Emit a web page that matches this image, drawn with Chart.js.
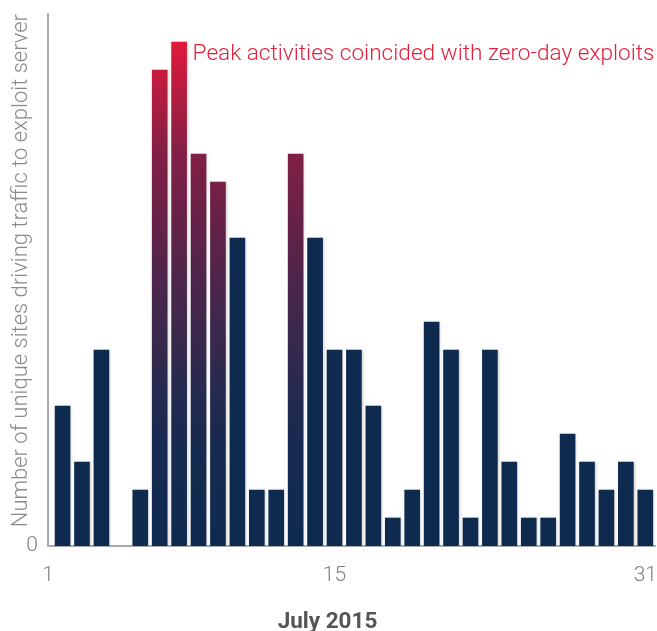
<!DOCTYPE html>
<html>
<head>
<meta charset="utf-8">
<script src="https://cdn.jsdelivr.net/npm/chart.js@4.4.1/dist/chart.umd.min.js"></script>
<style>
  html, body { margin: 0; padding: 0; background: #ffffff; }
  canvas { display: block; }
</style>
</head>
<body>
<canvas id="chart" width="657" height="631"></canvas>
<script>
// ---- data ----
const days = [1,2,3,4,5,6,7,8,9,10,11,12,13,14,15,16,17,18,19,20,21,22,23,24,25,26,27,28,29,30,31];
const siteCounts = [5,3,7,0,2,17,18,14,13,11,2,2,14,11,7,7,5,1,2,8,7,1,7,3,1,1,4,3,2,3,2];
const zeroDayDays = [6,7,8,9,13];
const xTickDays = [1,15,31];
const xTickLabels = ['1','15','31'];
const yTickValues = [0];
const yTickLabels = ['0'];
const annotationText = 'Peak activities coincided with zero-day exploits';
const yAxisTitle = 'Number of unique sites driving traffic to exploit server';
const xAxisTitle = 'July 2015';

// ---- styles ----
const NAVY = '#0f2a4f';
const AXIS_GREY = '#a8a9ad';
const TEXT_GREY = '#808080';
const RED = '#e2203d';
const gradientStops = [
  [0.00, '#e8183a'],
  [0.05, '#e11a3a'],
  [0.105, '#c81b3d'],
  [0.26, '#821f45'],
  [0.38, '#682147'],
  [0.54, '#45274b'],
  [0.63, '#35294d'],
  [0.71, '#25294f'],
  [0.82, '#162a50'],
  [1.00, NAVY]
];

let gradCache = null, gradKey = '';
function peakGradient(chart) {
  const a = chart.chartArea;
  const key = a.top + ':' + a.bottom;
  if (!gradCache || gradKey !== key) {
    const g = chart.ctx.createLinearGradient(0, a.top, 0, a.bottom);
    gradientStops.forEach(([p, c]) => g.addColorStop(p, c));
    gradCache = g; gradKey = key;
  }
  return gradCache;
}

const barShadow = {
  id: 'barShadow',
  beforeDatasetsDraw(chart) {
    const c = chart.ctx;
    c.save();
    c.shadowColor = 'rgba(0,0,0,0.22)';
    c.shadowBlur = 3;
    c.shadowOffsetX = 1;
    c.shadowOffsetY = 0;
  },
  afterDatasetsDraw(chart) {
    chart.ctx.restore();
  }
};

const peakNote = {
  id: 'peakNote',
  afterDatasetsDraw(chart) {
    const meta = chart.getDatasetMeta(0);
    const i = siteCounts.indexOf(Math.max(...siteCounts));
    const bar = meta.data[i];
    const c = chart.ctx;
    c.save();
    c.font = '300 22.6px Roboto';
    c.fillStyle = RED;
    c.textAlign = 'left';
    c.textBaseline = 'alphabetic';
    c.fillText(annotationText, bar.x + bar.width / 2 + 6, bar.y + 17.5);
    c.restore();
  }
};

new Chart(document.getElementById('chart'), {
  type: 'bar',
  data: {
    labels: days,
    datasets: [{
      data: siteCounts,
      backgroundColor: (ctx) => {
        const chart = ctx.chart;
        const v = siteCounts[ctx.dataIndex];
        if (!v) return 'rgba(0,0,0,0)';
        if (!chart.chartArea) return NAVY;
        return zeroDayDays.includes(days[ctx.dataIndex]) ? peakGradient(chart) : NAVY;
      },
      borderWidth: 0,
      barThickness: 15
    }]
  },
  options: {
    responsive: false,
    animation: false,
    layout: { padding: { left: 0, right: 2, top: 14, bottom: 0 } },
    plugins: {
      legend: { display: false },
      tooltip: { enabled: false },
      title: {
        display: true,
        position: 'bottom',
        text: xAxisTitle,
        color: '#555555',
        font: { family: 'Roboto', size: 22.5, weight: 'bold', lineHeight: 1 },
        padding: { top: 0, bottom: -3 }
      }
    },
    scales: {
      x: {
        type: 'linear',
        min: 0.25,
        max: 31.5,
        offset: false,
        grid: { display: false, drawTicks: false },
        border: { display: true, color: AXIS_GREY, width: 2 },
        afterBuildTicks: (s) => {
          s.ticks = xTickDays.map((d, i) => ({ value: i === 0 ? s.min : d }));
        },
        ticks: {
          autoSkip: false,
          maxRotation: 0,
          padding: 17,
          color: TEXT_GREY,
          font: { family: 'Roboto', size: 21, weight: 300 },
          callback: (v, i) => xTickLabels[i]
        },
        afterFit: (s) => { s.height = 65.5; s.paddingLeft = 0; s.paddingRight = 0; }
      },
      y: {
        min: 0,
        max: 19,
        grid: { display: false, drawTicks: false },
        border: { display: true, color: AXIS_GREY, width: 2 },
        afterBuildTicks: (s) => {
          s.ticks = yTickValues.map(v => ({ value: v }));
        },
        ticks: {
          padding: 10,
          color: TEXT_GREY,
          font: { family: 'Roboto', size: 21, weight: 300 },
          callback: (v, i) => yTickLabels[i]
        },
        title: {
          display: true,
          text: yAxisTitle,
          align: 'end',
          color: '#8a8a8a',
          font: { family: 'Roboto', size: 22, weight: 300 },
          padding: { top: 8, bottom: 0 }
        },
        afterFit: (s) => { s.width = 48; s.paddingTop = 0; s.paddingBottom = 0; }
      }
    }
  },
  plugins: [barShadow, peakNote]
});
</script>
</body>
</html>
